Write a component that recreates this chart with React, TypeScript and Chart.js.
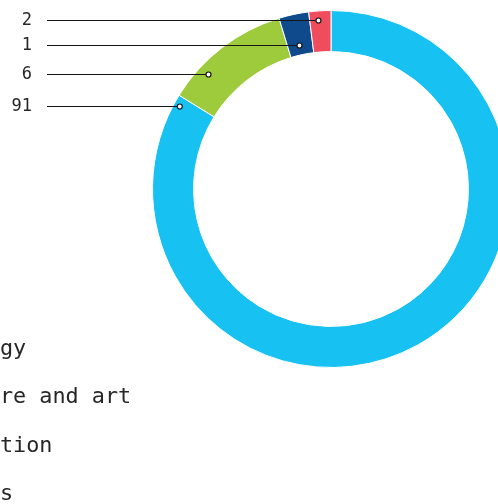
import React, { useEffect, useRef } from "react";
import { Chart, registerables } from "chart.js";

Chart.register(...registerables);

// ---- data ----
const categories = ["Ecology", "Culture and art", "Education", "Others"];
const shares = [83.8, 11.5, 2.7, 2.0];
const labelValues = ["91", "6", "1", "2"];
const colors = ["#17C2F3", "#9DCB3C", "#0E4A8C", "#EF4C5E"];

// leader-line anchor inside each slice: [fraction along arc, fraction across ring]
const leaderAnchors = [
  [0.99, 0.85],
  [0.28, 0.75],
  [0.47, 0.24],
  [0.41, 0.78],
];

const MONO = '"DejaVu Sans Mono", "Liberation Mono", monospace';

const annotationPlugin = {
  id: "leadersAndLegend",
  afterDraw(chart: any) {
    const ctx = chart.ctx as CanvasRenderingContext2D;
    const meta = chart.getDatasetMeta(0);
    ctx.save();
    // leader lines + value labels
    meta.data.forEach((arc: any, i: number) => {
      const p = arc.getProps(["x", "y", "startAngle", "endAngle", "innerRadius", "outerRadius"], true);
      const [af, rf] = leaderAnchors[i];
      const a = p.startAngle + (p.endAngle - p.startAngle) * af;
      const r = p.innerRadius + (p.outerRadius - p.innerRadius) * rf;
      const dx = p.x + Math.cos(a) * r;
      const dy = Math.round(p.y + Math.sin(a) * r) + 0.5;
      ctx.strokeStyle = "#151515";
      ctx.lineWidth = 1.2;
      ctx.beginPath();
      ctx.moveTo(47, dy);
      ctx.lineTo(dx - 2.5, dy);
      ctx.stroke();
      ctx.beginPath();
      ctx.arc(dx, dy, 2.5, 0, Math.PI * 2);
      ctx.fillStyle = "#ffffff";
      ctx.fill();
      ctx.stroke();
      ctx.fillStyle = "#262626";
      ctx.font = `17px ${MONO}`;
      ctx.textAlign = "right";
      ctx.textBaseline = "middle";
      ctx.fillText(labelValues[i], 32, dy);
    });
    // legend (partly outside the visible area on the left)
    const legendX = -65.7;
    const legendY0 = 354.8;
    const legendStep = 48.4;
    ctx.font = `21.8px ${MONO}`;
    ctx.textAlign = "left";
    ctx.textBaseline = "alphabetic";
    categories.forEach((c, i) => {
      const y = legendY0 + i * legendStep;
      ctx.fillStyle = colors[i];
      ctx.fillRect(legendX - 34, y - 16, 18, 18);
      ctx.fillStyle = "#262626";
      ctx.fillText(c, legendX, y);
    });
    ctx.restore();
  },
};

export default function App() {
  const ref = useRef<HTMLCanvasElement>(null);
  useEffect(() => {
    if (!ref.current) return;
    const chart = new Chart(ref.current, {
      type: "doughnut",
      data: {
        labels: categories,
        datasets: [
          {
            data: shares,
            backgroundColor: colors,
            borderColor: "#ffffff",
            borderWidth: 1,
            hoverOffset: 0,
          },
        ],
      },
      options: {
        responsive: false,
        animation: false,
        devicePixelRatio: 1,
        radius: 178.5,
        cutout: "77%",
        layout: { padding: { left: 152.5, top: 10.5, right: 10.5, bottom: 136.5 } },
        plugins: {
          legend: { display: false },
          tooltip: { enabled: false },
        },
        events: [],
      } as any,
      plugins: [annotationPlugin],
    });
    return () => chart.destroy();
  }, []);
  return (
    <div
      style={{
        position: "fixed",
        left: 0,
        top: 0,
        width: 498,
        height: 504,
        overflow: "hidden",
        background: "#ffffff",
      }}
    >
      <canvas ref={ref} width={520} height={504} style={{ display: "block", width: 520, height: 504 }} />
    </div>
  );
}
